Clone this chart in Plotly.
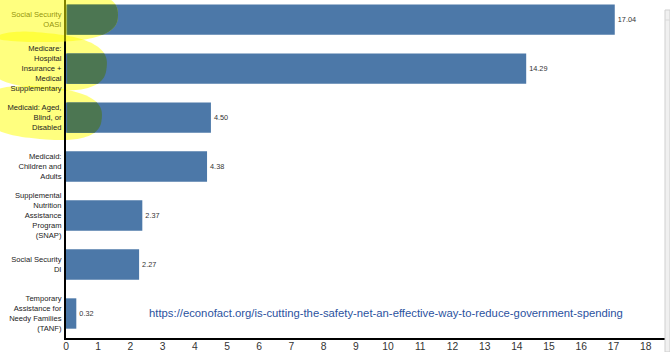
import numpy as np
import plotly.graph_objects as go

categories = [
    "Social Security<br>OASI",
    "Medicare:<br>Hospital<br>Insurance +<br>Medical<br>Supplementary",
    "Medicaid: Aged,<br>Blind, or<br>Disabled",
    "Medicaid:<br>Children and<br>Adults",
    "Supplemental<br>Nutrition<br>Assistance<br>Program<br>(SNAP)",
    "Social Security<br>DI",
    "Temporary<br>Assistance for<br>Needy Families<br>(TANF)",
]
values = [17.04, 14.29, 4.50, 4.38, 2.37, 2.27, 0.32]
x_ticks = list(range(0, 19))
source_url = "https://econofact.org/is-cutting-the-safety-net-an-effective-way-to-reduce-government-spending"

W, H = 670, 352
L, R, T, B = 66, 5, 0, 14
PW, PH = W - L - R, H - T - B
XMAX = 18.6
YR = (6.5, -0.4)          # category axis range (bottom, top)
BAR_W = 0.62


def px2paper(px, py):
    return (px - L) / PW, (H - B - py) / PH


def cat2paper(c):
    return (YR[0] - c) / (YR[0] - YR[1])


def blob_px(cx, cy, rx, ry, n=2.6, rot=0.0, npts=120):
    t = np.linspace(0, 2 * np.pi, npts, endpoint=False)
    c, s = np.cos(t), np.sin(t)
    xs = rx * np.sign(c) * np.abs(c) ** (2 / n)
    ys = ry * np.sign(s) * np.abs(s) ** (2 / n)
    a = np.deg2rad(rot)
    X = cx + xs * np.cos(a) - ys * np.sin(a)
    Y = cy + xs * np.sin(a) + ys * np.cos(a)
    return np.clip(X, 0, W), np.clip(Y, 0, H)


def clip_poly(pts, xmin, xmax, ymin, ymax):
    def clip(points, inside, inter):
        out = []
        for i in range(len(points)):
            cur, prev = points[i], points[i - 1]
            if inside(cur):
                if not inside(prev):
                    out.append(inter(prev, cur))
                out.append(cur)
            elif inside(prev):
                out.append(inter(prev, cur))
        return out

    def ix(xv):
        return lambda p, q: (xv, p[1] + (q[1] - p[1]) * (xv - p[0]) / (q[0] - p[0]))

    def iy(yv):
        return lambda p, q: (p[0] + (q[0] - p[0]) * (yv - p[1]) / (q[1] - p[1]), yv)

    pts = clip(pts, lambda p: p[0] >= xmin, ix(xmin))
    if pts: pts = clip(pts, lambda p: p[0] <= xmax, ix(xmax))
    if pts: pts = clip(pts, lambda p: p[1] >= ymin, iy(ymin))
    if pts: pts = clip(pts, lambda p: p[1] <= ymax, iy(ymax))
    return pts


def path(pts):
    return "M " + " L ".join(f"{x:.5f},{y:.5f}" for x, y in pts) + " Z"


fig = go.Figure(
    go.Bar(
        x=values,
        y=categories,
        orientation="h",
        width=BAR_W,
        marker=dict(color="#4c78a8", line=dict(width=0)),
        texttemplate="%{x:.2f}",
        textposition="outside",
        cliponaxis=False,
        textfont=dict(family="Liberation Sans, Arial", size=7.3, color="#333333"),
        hoverinfo="skip",
    )
)

# highlighter marks: (centre x, centre y, radius x, radius y, rotation) in pixels, layer
blobs = [((42, 15, 76, 27, 0), "above"), ((45, 61, 62, 28, 6), "below"), ((42, 113, 60, 26, 5), "below")]
shapes = []
overlays = []
for (cx, cy, rx, ry, rot), lay in blobs:
    X, Y = blob_px(cx, cy, rx, ry, rot=rot)
    paper_pts = [px2paper(x, y) for x, y in zip(X, Y)]
    shapes.append(dict(type="path", xref="paper", yref="paper", path=path(paper_pts),
                       fillcolor="rgb(255,255,0)", opacity=0.5, line=dict(width=0), layer=lay))
    # part lying on a bar: x in data units, y in paper units
    data_pts = [(p[0] * XMAX, p[1]) for p in paper_pts]
    for j, v in enumerate(values):
        y_lo, y_hi = cat2paper(j + BAR_W / 2), cat2paper(j - BAR_W / 2)
        cp = clip_poly(data_pts, 0.035, v, y_lo, y_hi)
        if len(cp) >= 3:
            overlays.append(dict(type="path", xref="x", yref="paper", path=path(cp),
                                 fillcolor="rgb(76,118,82)", line=dict(width=0), layer="above"))
shapes += overlays

# right-side grey panel
x0, y0 = px2paper(665, 10)
x1, y1 = px2paper(670, 352)
shapes.append(dict(type="rect", xref="paper", yref="paper", x0=x0, y0=y1, x1=x1, y1=y0,
                   fillcolor="#f0f0f0", line=dict(color="#cfcfcf", width=1), layer="above"))
lx0, ly = px2paper(665, 20)
lx1, _ = px2paper(670, 20)
shapes.append(dict(type="line", xref="paper", yref="paper", x0=lx0, y0=ly, x1=lx1, y1=ly,
                   line=dict(color="#d8d8d8", width=1), layer="above"))

ax, ay = px2paper(386, 313)

fig.update_layout(
    width=W, height=H,
    margin=dict(l=L, r=R, t=T, b=B, pad=0),
    paper_bgcolor="white", plot_bgcolor="white",
    showlegend=False,
    font=dict(family="Liberation Sans, Arial", color="#222222"),
    xaxis=dict(
        range=[0, XMAX], tickvals=x_ticks, ticktext=[str(v) for v in x_ticks],
        showgrid=False, zeroline=False, showline=True, linecolor="black", linewidth=1.5,
        ticks="", tickfont=dict(size=10.3, color="#333333"), automargin=False,
        ticklabelstandoff=-2,
    ),
    yaxis=dict(
        type="category", categoryorder="array", categoryarray=categories,
        range=list(YR), showgrid=False, zeroline=False, showline=True,
        linecolor="black", linewidth=2, ticks="", ticklabelstandoff=1,
        tickfont=dict(size=7.6, color="#222222"), automargin=False,
    ),
    shapes=shapes,
    annotations=[dict(
        text=source_url, xref="paper", yref="paper", x=ax, y=ay,
        xanchor="center", yanchor="middle", showarrow=False,
        font=dict(family="Liberation Sans, Arial", size=11.3, color="#2b52a0"),
    )],
)

fig.write_html("out.html", config={"displayModeBar": False})
